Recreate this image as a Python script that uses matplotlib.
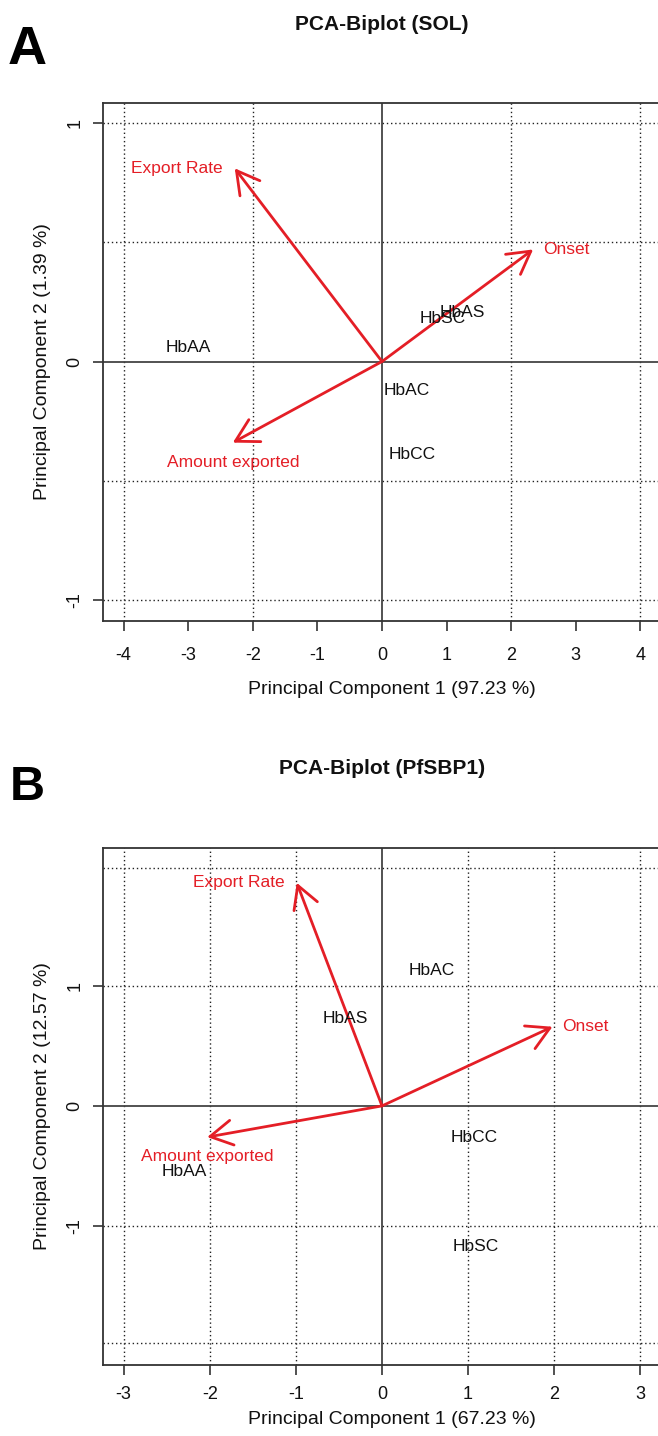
import matplotlib.pyplot as plt

plt.rcParams['font.family'] = ['Liberation Sans', 'DejaVu Sans']

# sample scores (PC1, PC2)
samples = ["HbAA", "HbAS", "HbSC", "HbAC", "HbCC"]
sol_pc1 = [-3.00, 1.24, 0.94, 0.39, 0.46]
sol_pc2 = [0.059, 0.205, 0.18, -0.12, -0.39]
sbp_pc1 = [-2.30, -0.43, 1.09, 0.58, 1.07]
sbp_pc2 = [-0.55, 0.73, -1.17, 1.13, -0.26]

# variable loadings (arrow tips)
variables = ["Export Rate", "Onset", "Amount exported"]
label_side = ["left", "right", "below"]
sol_load_x = [-2.28, 2.34, -2.31]
sol_load_y = [0.81, 0.47, -0.34]
sbp_load_x = [-0.99, 1.98, -2.03]
sbp_load_y = [1.86, 0.66, -0.26]

# axis ticks and grid positions
sol_xticks = [-4, -3, -2, -1, 0, 1, 2, 3, 4]
sol_yticks = [-1, 0, 1]
sol_xgrid = [-4, -2, 2, 4]
sol_ygrid = [-1, -0.5, 0.5, 1]
sbp_xticks = [-3, -2, -1, 0, 1, 2, 3]
sbp_yticks = [-1, 0, 1]
sbp_xgrid = [-3, -2, -1, 1, 2, 3]
sbp_ygrid = [-1.98, -1, 1, 1.98]

red = '#e41e26'
W, H = 658, 1436

fig = plt.figure(figsize=(W / 100, H / 100), dpi=100)


def biplot(rect, title, letter, letter_size, title_y, letter_y,
           pc1, pc2, lx, ly, xticks, yticks, xgrid, ygrid, xlim, ylim,
           xlab, ylab, tickpad, xlab_y):
    left, top, right, bottom = rect
    ax = fig.add_axes([left / W, 1 - bottom / H, (right - left) / W, (bottom - top) / H])
    ax.set_xlim(*xlim)
    ax.set_ylim(*ylim)

    for g in xgrid:
        ax.axvline(g, color='#222222', lw=1.0, ls=(0, (1, 2)), zorder=1)
    for g in ygrid:
        ax.axhline(g, color='#222222', lw=1.0, ls=(0, (1, 2)), zorder=1)
    ax.axvline(0, color='#444444', lw=1.3, zorder=1)
    ax.axhline(0, color='#444444', lw=1.3, zorder=1)

    for name, x, y in zip(samples, pc1, pc2):
        ax.text(x, y, name, ha='center', va='center', fontsize=12.5, color='#111111', zorder=3)

    for name, side, x, y in zip(variables, label_side, lx, ly):
        ax.annotate('', xy=(x, y), xytext=(0, 0),
                    arrowprops=dict(arrowstyle='->,head_length=0.8,head_width=0.45',
                                    color=red, lw=2.0, shrinkA=0, shrinkB=0,
                                    mutation_scale=20), zorder=2)
        if side == 'left':
            ax.annotate(name, (x, y), xytext=(-9, 0), textcoords='offset points',
                        ha='right', va='center', color=red, fontsize=12.5)
        elif side == 'right':
            ax.annotate(name, (x, y), xytext=(7, 0), textcoords='offset points',
                        ha='left', va='center', color=red, fontsize=12.5)
        else:
            ax.annotate(name, (x, y), xytext=(0, -14), textcoords='offset points',
                        ha='center', va='center', color=red, fontsize=12.5)

    ax.set_xticks(xticks)
    ax.set_yticks(yticks)
    ax.set_xticklabels([str(t) for t in xticks])
    ax.set_yticklabels([str(t) for t in yticks], rotation=90, va='center')
    ax.tick_params(axis='x', length=7, width=1.2, color='#333333', pad=tickpad,
                   labelsize=13, labelcolor='#111111')
    ax.tick_params(axis='y', length=7, width=1.2, color='#333333', pad=7,
                   labelsize=13, labelcolor='#111111')
    for s in ax.spines.values():
        s.set_color('#333333')
        s.set_linewidth(1.3)

    ax.set_xlabel(xlab, fontsize=14, color='#111111', va='center')
    ax.xaxis.set_label_coords(0.518, xlab_y)
    ax.set_ylabel(ylab, fontsize=14, color='#111111', va='center')
    ax.yaxis.set_label_coords(-0.109, 0.5)

    fig.text(382 / W, 1 - title_y / H, title, ha='center', va='center',
             fontsize=15, fontweight='bold', color='#111111')
    fig.text(27 / W, 1 - letter_y / H, letter, ha='center', va='center',
             fontsize=letter_size, fontweight='bold', color='black')
    return ax


biplot((103, 103, 661, 621), "PCA-Biplot (SOL)", "A", 39, 24, 50,
       sol_pc1, sol_pc2, sol_load_x, sol_load_y,
       sol_xticks, sol_yticks, sol_xgrid, sol_ygrid,
       (-4.32, 4.32), (-1.088, 1.084),
       "Principal Component 1 (97.23 %)", "Principal Component 2 (1.39 %)",
       tickpad=12, xlab_y=-0.133)

biplot((103, 848, 661, 1365), "PCA-Biplot (PfSBP1)", "B", 35, 768, 787,
       sbp_pc1, sbp_pc2, sbp_load_x, sbp_load_y,
       sbp_xticks, sbp_yticks, sbp_xgrid, sbp_ygrid,
       (-3.24, 3.24), (-2.16, 2.15),
       "Principal Component 1 (67.23 %)", "Principal Component 2 (12.57 %)",
       tickpad=8, xlab_y=-0.106)

fig.savefig('out.png', dpi=100)
